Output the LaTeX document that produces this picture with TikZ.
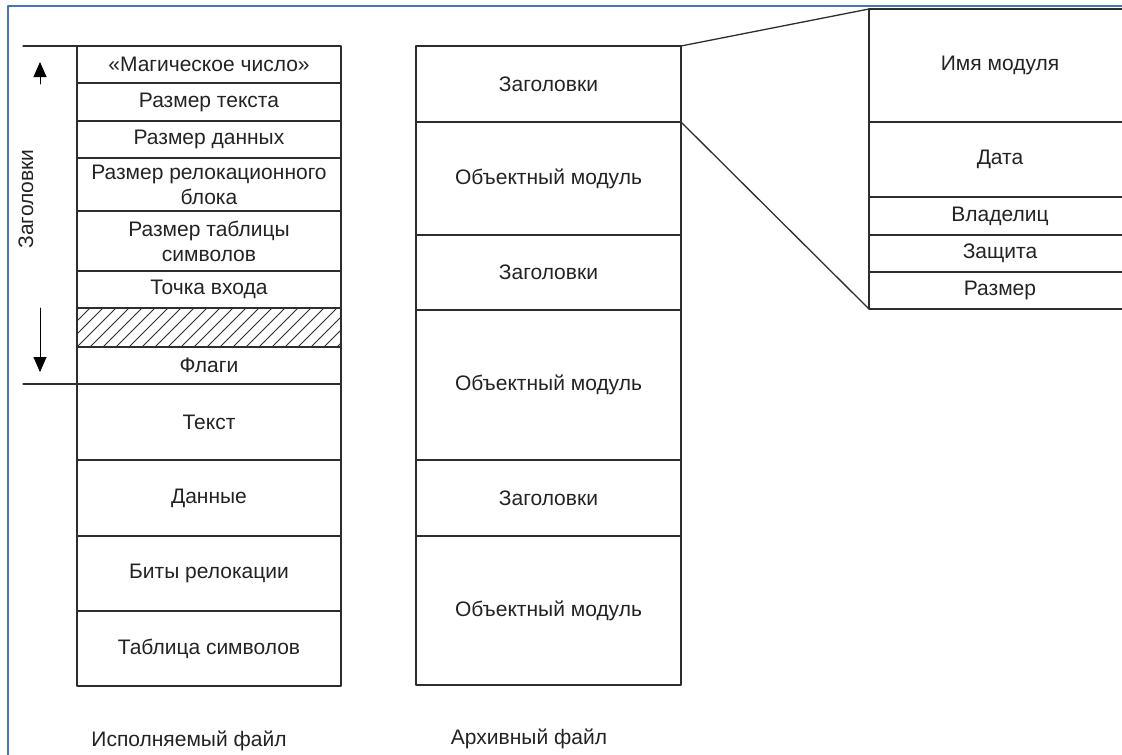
\documentclass[tikz,border=0pt]{standalone}
\usepackage{fontspec}
\setmainfont{Liberation Sans}
\usetikzlibrary{positioning,calc,arrows.meta}
\definecolor{frameblue}{RGB}{68,114,196}
\definecolor{linegray}{RGB}{45,45,45}
\definecolor{txtgray}{RGB}{35,35,35}
\tikzset{
    lab/.style={
        font=\fontsize{21}{25}\selectfont, text=txtgray
    }
}

\begin{document}
\begin{tikzpicture}[x=1pt,y=-1pt, line cap=round, line join=round]

\tikzset{
  main/.style={draw=linegray, line width=1.3pt},
  cell/.style={main, lab, rectangle, inner sep=0pt, outer sep=0pt, align=center, minimum width=264pt},
  rcell/.style={cell, minimum width=262pt},
  frame/.style={draw=frameblue, line width=2pt},
  arr/.style={draw=black, line width=1pt, -{Triangle[length=15pt,width=13pt]}},
  hatchline/.style={draw=linegray, line width=1pt},
}

\useasboundingbox (0,0) rectangle (1122,755);

% frame
\coordinate (F1) at (8,756);
\coordinate (F2) at (8,6);
\coordinate (F3) at (1124,6);
\draw[frame] (F1) -- (F2) -- (F3);

% executable file
\node[cell, minimum height=37pt, anchor=north west] (magic) at (77,46) {«Магическое число»};
\node[cell, minimum height=38pt, below=0pt of magic] (tsize) {Размер текста};
\node[cell, minimum height=37pt, below=0pt of tsize] (dsize) {Размер данных};
\node[cell, minimum height=53pt, below=0pt of dsize] (rsize) {Размер релокационного\\блока};
\node[cell, minimum height=60pt, below=0pt of rsize] (ssize) {Размер таблицы\\символов};
\node[cell, minimum height=37pt, below=0pt of ssize] (entry) {Точка входа};
\node[cell, minimum height=39pt, below=0pt of entry] (hatch) {};
\node[cell, minimum height=37pt, below=0pt of hatch] (flags) {Флаги};
\node[cell, minimum height=76pt, below=0pt of flags] (text) {Текст};
\node[cell, minimum height=76pt, below=0pt of text] (data) {Данные};
\node[cell, minimum height=75pt, below=0pt of data] (rbits) {Биты релокации};
\node[cell, minimum height=75pt, below=0pt of rbits] (symtab) {Таблица символов};

% hatching
\begin{scope}
  \clip (hatch.north west) rectangle (hatch.south east);
  \foreach \i in {0,...,24}
    \draw[hatchline] ($(hatch.south west)+(\i*13-39,0)$) -- ++(39,-39);
\end{scope}
\draw[main] (hatch.north west) rectangle (hatch.south east);

% header bracket
\coordinate (H1) at (23,46);
\coordinate (H2) at (23,384);
\draw[main] (H1) -- (magic.north west);
\draw[main] (H2) -- (flags.south west);
\coordinate (UpA) at (40,84);
\coordinate (UpB) at (40,62);
\coordinate (DnA) at (40,308);
\coordinate (DnB) at (40,372);
\draw[arr] (UpA) -- (UpB);
\draw[arr] (DnA) -- (DnB);
\node[lab, rotate=90] (hdr) at (26,199) {Заголовки};

% archive file
\node[cell, minimum width=265pt, minimum height=76pt, anchor=north west] (hd1) at (416,46) {Заголовки};
\node[cell, minimum width=265pt, minimum height=113pt, below=0pt of hd1] (om1) {Объектный модуль};
\node[cell, minimum width=265pt, minimum height=75pt, below=0pt of om1] (hd2) {Заголовки};
\node[cell, minimum width=265pt, minimum height=150pt, below=0pt of hd2] (om2) {Объектный модуль};
\node[cell, minimum width=265pt, minimum height=76pt, below=0pt of om2] (hd3) {Заголовки};
\node[cell, minimum width=265pt, minimum height=149pt, below=0pt of hd3] (om3) {Объектный модуль};

% header contents
\node[rcell, minimum height=113pt, anchor=north west] (mname) at (869,9) {Имя модуля};
\node[rcell, minimum height=75pt, below=0pt of mname] (date) {Дата};
\node[rcell, minimum height=38pt, below=0pt of date] (owner) {Владелиц};
\node[rcell, minimum height=37pt, below=0pt of owner] (prot) {Защита};
\node[rcell, minimum height=37pt, below=0pt of prot] (size) {Размер};

% zoom lines
\draw[main] (hd1.north east) -- (mname.north west);
\draw[main] (hd1.south east) -- (size.south west);

% captions
\node[lab] (exe) at (189,741) {Исполняемый файл};
\node[lab] (arc) at (529,739) {Архивный файл};

\end{tikzpicture}
\end{document}
